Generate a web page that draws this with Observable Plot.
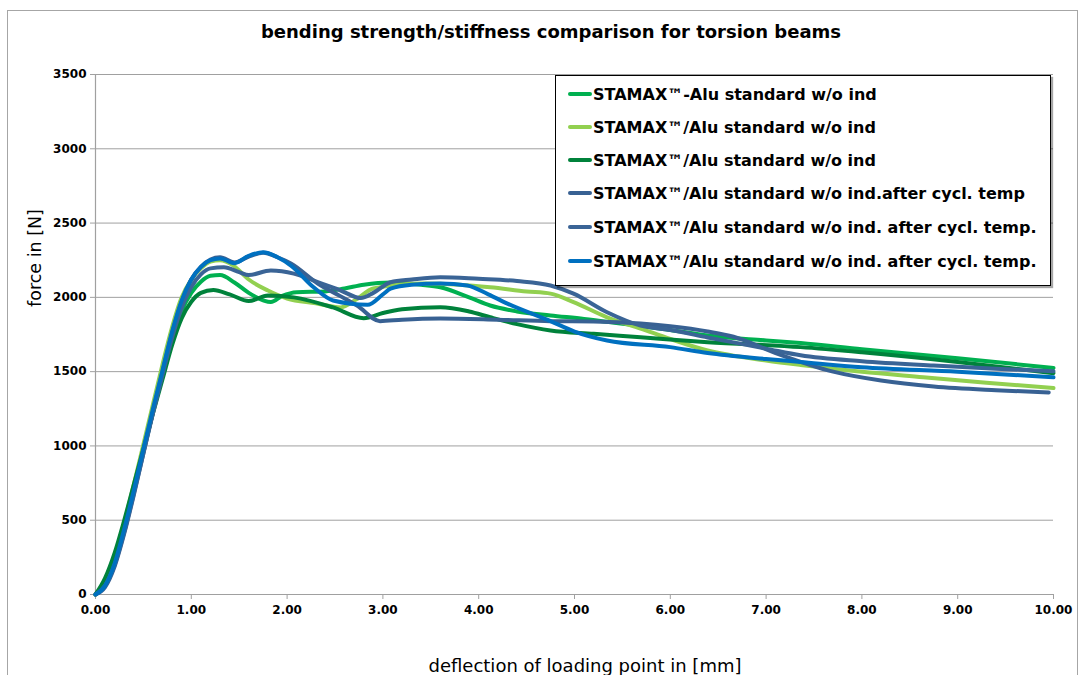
<!DOCTYPE html>
<html>
<head>
<meta charset="utf-8">
<script src="https://cdn.jsdelivr.net/npm/d3@7"></script>
<script src="https://cdn.jsdelivr.net/npm/@observablehq/plot@0.6"></script>
<style>
  html, body { margin: 0; padding: 0; background: #fff; }
  #wrap { position: relative; width: 1085px; height: 675px; overflow: hidden; font-family: "DejaVu Sans", Verdana, sans-serif; }
  #frame { position: absolute; left: 7px; top: 10px; width: 1071px; height: 720px; border: 1px solid #a6a6a6; box-sizing: border-box; }
  #title { position: absolute; left: 551px; top: 31px; transform: translate(-50%, -50%); font-weight: bold; font-size: 18px; white-space: nowrap; color: #000; }
  #ylab { position: absolute; left: 35px; top: 258px; transform: translate(-50%, -50%) rotate(-90deg); font-size: 17.5px; white-space: nowrap; color: #000; }
  #xlab { position: absolute; left: 585px; top: 665px; transform: translate(-50%, -50%); font-size: 18px; white-space: nowrap; color: #000; }
  #legend { position: absolute; left: 555px; top: 75px; width: 496px; height: 211px; box-sizing: border-box; border: 1px solid #000; background: #fff; box-shadow: 2px 2px 1px rgba(0,0,0,0.35); }
  .item { position: absolute; left: 12px; height: 20px; display: flex; align-items: center; font-weight: bold; font-size: 16px; white-space: nowrap; color: #000; }
  .sw { width: 24px; height: 4px; margin-right: 1px; border-radius: 2px; }
  #plot { position: absolute; left: 0; top: 0; }
</style>
</head>
<body>
<div id="wrap">
  <div id="frame"></div>
  <div id="plot"></div>
  <div id="title">bending strength/stiffness comparison for torsion beams</div>
  <div id="ylab">force in [N]</div>
  <div id="xlab">deflection of loading point in [mm]</div>
  <div id="legend"></div>
</div>
<script>
// ---- data (deflection in mm, force in N) ----
const seriesNames = [
  "STAMAX\u2122-Alu standard w/o ind",
  "STAMAX\u2122/Alu standard w/o ind",
  "STAMAX\u2122/Alu standard w/o ind",
  "STAMAX\u2122/Alu standard w/o ind.after cycl. temp",
  "STAMAX\u2122/Alu standard w/o ind. after cycl. temp.",
  "STAMAX\u2122/Alu standard w/o ind. after cycl. temp."
];
const seriesColors = ["#00B050", "#92D050", "#00823B", "#386193", "#3A6496", "#0070C0"];

const xTicks = [0, 1, 2, 3, 4, 5, 6, 7, 8, 9, 10];
const yTicks = [0, 500, 1000, 1500, 2000, 2500, 3000, 3500];

const s1 = [[0,0],[0.1,90],[0.2,250],[0.3,460],[0.4,700],[0.5,960],[0.6,1230],[0.7,1480],[0.8,1720],[0.9,1910],[1.0,2030],[1.1,2105],[1.2,2145],[1.3,2150],[1.45,2100],[1.6,2030],[1.75,1980],[1.83,1968],[1.95,2010],[2.1,2035],[2.4,2040],[2.6,2060],[2.8,2085],[3.08,2100],[3.4,2085],[3.6,2068],[3.9,2000],[4.12,1945],[4.4,1905],[4.75,1878],[5.1,1855],[5.48,1824],[6.0,1780],[6.39,1743],[7.0,1710],[7.36,1692],[8.0,1650],[9.0,1590],[10.0,1525]];
const s2 = [[0,0],[0.1,80],[0.2,250],[0.3,480],[0.4,740],[0.5,1010],[0.6,1280],[0.7,1550],[0.8,1800],[0.9,2000],[1.0,2120],[1.1,2195],[1.2,2240],[1.3,2250],[1.44,2214],[1.6,2120],[1.8,2046],[2.0,1992],[2.3,1960],[2.56,1932],[2.72,1985],[2.9,2060],[3.42,2093],[3.8,2085],[4.12,2068],[4.5,2040],[4.75,2025],[4.99,1968],[5.34,1866],[5.69,1790],[6.0,1720],[6.39,1642],[7.0,1575],[7.36,1545],[8.0,1500],[8.64,1463],[9.3,1425],[10.0,1390]];
const s3 = [[0,0],[0.1,110],[0.2,280],[0.3,500],[0.4,740],[0.5,980],[0.6,1220],[0.7,1450],[0.8,1680],[0.9,1860],[1.0,1970],[1.1,2030],[1.23,2050],[1.4,2020],[1.6,1975],[1.8,2013],[2.07,2000],[2.48,1932],[2.8,1860],[3.0,1895],[3.2,1920],[3.6,1934],[3.9,1905],[4.12,1866],[4.4,1820],[4.75,1777],[5.2,1755],[5.69,1732],[6.39,1698],[7.36,1665],[8.0,1630],[9.0,1565],[10.0,1490]];
const s4 = [[0,0],[0.1,50],[0.2,190],[0.3,410],[0.4,670],[0.5,950],[0.6,1230],[0.7,1500],[0.8,1760],[0.9,1970],[1.0,2120],[1.1,2205],[1.2,2255],[1.3,2270],[1.45,2235],[1.6,2275],[1.75,2300],[1.9,2270],[2.04,2228],[2.32,2093],[2.55,2010],[2.73,1945],[2.97,1840],[3.2,1850],[3.6,1858],[4.2,1850],[4.75,1840],[5.2,1838],[5.69,1824],[6.0,1805],[6.39,1770],[6.66,1735],[7.08,1630],[7.7,1500],[8.2,1440],[8.75,1400],[9.4,1375],[9.95,1360]];
const s5 = [[0,0],[0.1,60],[0.2,200],[0.3,420],[0.4,680],[0.5,950],[0.6,1220],[0.7,1480],[0.8,1730],[0.9,1930],[1.0,2070],[1.1,2155],[1.2,2195],[1.34,2203],[1.5,2170],[1.6,2150],[1.83,2181],[2.07,2160],[2.28,2113],[2.56,2046],[2.77,1995],[2.9,2030],[3.08,2102],[3.3,2120],[3.6,2136],[4.0,2125],[4.4,2110],[4.75,2080],[4.99,2025],[5.34,1900],[5.69,1810],[6.0,1780],[6.39,1730],[7.0,1655],[7.36,1610],[8.0,1570],[8.75,1541],[9.4,1520],[10.0,1503]];
const s6 = [[0,0],[0.1,60],[0.2,210],[0.3,440],[0.4,700],[0.5,980],[0.6,1250],[0.7,1510],[0.8,1770],[0.9,1980],[1.0,2120],[1.1,2205],[1.2,2250],[1.3,2262],[1.45,2230],[1.6,2280],[1.75,2303],[1.9,2270],[2.04,2214],[2.28,2066],[2.48,1979],[2.84,1950],[3.0,2020],[3.08,2058],[3.3,2085],[3.6,2093],[3.88,2080],[4.1,2020],[4.3,1958],[4.75,1840],[5.0,1770],[5.34,1710],[6.0,1665],[6.39,1625],[7.0,1585],[7.36,1565],[8.0,1530],[9.0,1500],[10.0,1462]];

const allSeries = [s1, s2, s3, s4, s5, s6];
const rows = allSeries.flatMap((s, i) => s.map(([d, f]) => ({ d, f, k: i })));

const gray = "#a0a0a0";
const chart = Plot.plot({
  width: 1085,
  height: 675,
  marginLeft: 95,
  marginRight: 32,
  marginTop: 74,
  marginBottom: 81,
  style: { fontFamily: "DejaVu Sans, Verdana, sans-serif", fontSize: "12px", fontWeight: "bold", color: "#000", background: "transparent" },
  x: { domain: [0, 10], label: null },
  y: { domain: [0, 3500], label: null },
  marks: [
    Plot.gridY(yTicks, { stroke: gray, strokeOpacity: 1, strokeWidth: 1 }),
    Plot.ruleX([0], { stroke: gray, strokeWidth: 1.2 }),
    Plot.ruleY([0], { stroke: gray, strokeWidth: 1.2 }),
    Plot.axisX(xTicks, { tickSize: 5, tickPadding: 6, stroke: gray, fill: "#000", tickFormat: d => d.toFixed(2), label: null }),
    Plot.axisY(yTicks, { tickSize: 5, tickPadding: 4, stroke: gray, fill: "#000", tickFormat: d => String(d), label: null }),
    Plot.line(rows, {
      x: "d", y: "f", z: "k",
      stroke: d => seriesColors[d.k],
      strokeWidth: 4,
      curve: "monotone-x",
      strokeLinejoin: "round",
      strokeLinecap: "round"
    })
  ]
});
document.getElementById("plot").appendChild(chart);

const legend = document.getElementById("legend");
const rowY = [18, 51, 84, 117, 151, 185];
seriesNames.forEach((name, i) => {
  const it = document.createElement("div");
  it.className = "item";
  it.style.top = (rowY[i] - 10) + "px";
  const sw = document.createElement("div");
  sw.className = "sw";
  sw.style.background = seriesColors[i];
  const tx = document.createElement("span");
  tx.textContent = name;
  it.appendChild(sw);
  it.appendChild(tx);
  legend.appendChild(it);
});
</script>
</body>
</html>
